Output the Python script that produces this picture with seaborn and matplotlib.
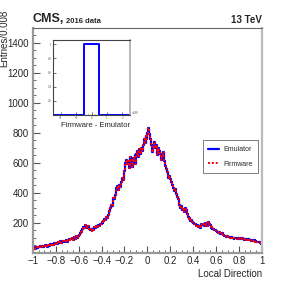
import numpy as np
import pandas as pd
import matplotlib
matplotlib.use('Agg')
import matplotlib.pyplot as plt
import seaborn as sns

# Local direction histogram, 250 bins of width 0.008 on [-1, 1]
bin_width = 0.008
counts = [
    32, 38, 28, 40, 35, 30, 42, 37, 45, 38, 48, 41, 44, 52, 46, 40, 50, 55, 47, 58, 52, 60, 54, 64, 58,
    66, 60, 72, 64, 70, 78, 66, 75, 82, 72, 80, 88, 76, 85, 92, 84, 95, 90, 100, 88, 104, 96, 110, 102, 115,
    122, 130, 145, 138, 160, 172, 165, 185, 176, 168, 180, 160, 150, 158, 145, 162, 155, 170, 165, 178, 172, 185, 180, 195, 190,
    205, 198, 215, 225, 218, 240, 235, 255, 280, 300, 320, 310, 345, 365, 360, 385, 430, 445, 420, 450, 440, 470, 500, 485, 530,
    545, 600, 620, 590, 610, 565, 640, 600, 575, 630, 610, 650, 590, 660, 680, 640, 690, 660, 700, 680, 720, 760, 730, 780, 760,
    800, 830, 790, 760, 720, 670, 700, 740, 700, 720, 680, 650, 700, 680, 660, 620, 650, 670, 610, 580, 560, 540, 525, 500, 510,
    490, 470, 450, 430, 410, 425, 390, 375, 360, 340, 320, 300, 310, 285, 290, 275, 300, 285, 260, 240, 225, 235, 210, 220, 205,
    200, 190, 196, 180, 185, 172, 178, 168, 180, 190, 185, 195, 180, 200, 188, 178, 205, 195, 185, 168, 175, 160, 158, 150, 155,
    145, 140, 135, 138, 128, 125, 130, 120, 118, 112, 115, 108, 110, 104, 106, 100, 104, 98, 102, 96, 100, 97, 103, 95, 99,
    96, 100, 92, 97, 90, 94, 88, 92, 95, 86, 90, 84, 88, 82, 86, 80, 84, 76, 80, 72, 76, 70, 74, 66, 62,
]
edges = np.linspace(-1, 1, len(counts) + 1)
centers = (edges[:-1] + edges[1:]) / 2
df = pd.DataFrame({'direction': centers, 'emulator': counts, 'firmware': counts})

# Firmware - Emulator difference: everything lands in the zero bin
diff_values = [0]
diff_counts = [sum(counts)]

sns.set_style('ticks')
plt.rcParams['font.family'] = ['Liberation Sans', 'DejaVu Sans']

fig = plt.figure(figsize=(2.91, 2.82), dpi=100)
ax = fig.add_axes([0.113, 0.103, 0.787, 0.798])

sns.histplot(data=df, x='direction', weights='emulator', binwidth=bin_width, binrange=(-1, 1),
             element='step', fill=False, color='#0000ff', linewidth=1.6, ax=ax, label='Emulator')
sns.histplot(data=df, x='direction', weights='firmware', binwidth=bin_width, binrange=(-1, 1),
             element='step', fill=False, color='#ff0000', linewidth=1.4, linestyle=(0, (1, 1)),
             ax=ax, label='Firmware')

ax.set_xlim(-1, 1)
ax.set_ylim(0, 1500)
ax.set_xticks(np.arange(-1, 1.01, 0.2))
ax.set_xticklabels(['\u22121', '\u22120.8', '\u22120.6', '\u22120.4', '\u22120.2', '0', '0.2', '0.4', '0.6', '0.8', '1'])
ax.set_xticks(np.arange(-1, 1.01, 0.05), minor=True)
ax.set_yticks(np.arange(200, 1401, 200))
ax.set_yticks(np.arange(0, 1501, 50), minor=True)
ax.tick_params(axis='both', which='major', direction='in', length=5, width=0.8, color='#555555',
               labelsize=7, pad=2)
ax.tick_params(axis='y', which='major', pad=2.8)
ax.tick_params(axis='both', which='minor', direction='in', length=2.5, width=0.6, color='#555555')
for side in ['left', 'bottom']:
    ax.spines[side].set_color('#999999')
    ax.spines[side].set_linewidth(1.6)
ax.spines['top'].set_color('#666666')
ax.spines['top'].set_linewidth(0.8)
ax.spines['right'].set_color('#bbbbbb')
ax.spines['right'].set_linewidth(1.6)

ax.set_xlabel('Local Direction', fontsize=7, loc='right', labelpad=2)
ax.set_ylabel('Entries/0.008', fontsize=7, loc='top')
ax.yaxis.set_label_coords(-0.104, 1.08)

ax.text(0.0, 1.015, 'CMS,', transform=ax.transAxes, fontsize=9, fontweight='bold', ha='left', va='bottom')
ax.text(0.143, 1.015, '2016 data', transform=ax.transAxes, fontsize=5.5, fontweight='bold', ha='left', va='bottom')
ax.text(1.0, 1.015, '13 TeV', transform=ax.transAxes, fontsize=7, fontweight='bold', ha='right', va='bottom')

leg = ax.legend(loc='upper left', bbox_to_anchor=(0.742, 0.50), fontsize=5, frameon=True,
                fancybox=False, edgecolor='#444444', handlelength=1.6, handletextpad=0.5,
                borderpad=0.8, labelspacing=1.1, borderaxespad=0)
leg.get_frame().set_linewidth(0.6)

# inset
ins = fig.add_axes([0.182, 0.592, 0.265, 0.266])
sns.histplot(x=diff_values, weights=diff_counts, binwidth=1.0, binrange=(-2.5, 2.5), element='step',
             fill=False, color='#0000ff', linewidth=1.4, ax=ins)
ins.set_xlim(-2.5, 2.5)
ins.set_ylim(0, diff_counts[0] * 1.06)
ins.set_xticks(np.arange(-2, 2.01, 1))
ins.set_xticks(np.arange(-2.5, 2.51, 0.25), minor=True)
ins.set_yticks(np.linspace(0, diff_counts[0], 6)[1:])
ins.set_yticklabels(['0.2', '0.4', '0.6', '0.8', '1'])
ins.tick_params(axis='both', which='major', direction='in', length=2, width=0.5, labelsize=2,
                pad=1, color='#333333', labelcolor='#555555')
ins.tick_params(axis='both', which='minor', direction='in', length=1, width=0.4, color='#333333')
ins.set_ylabel('')
ins.set_xlabel('Firmware - Emulator', fontsize=5.5, loc='right', labelpad=1)
for side in ['left', 'bottom', 'top']:
    ins.spines[side].set_color('#444444')
    ins.spines[side].set_linewidth(0.8)
ins.spines['right'].set_color('#aaaaaa')
ins.spines['right'].set_linewidth(1.2)
ins.text(1.02, 0.0, '\u00d710\u00b3', transform=ins.transAxes, fontsize=2.5, color='#555555', va='bottom')

fig.savefig('out.png', dpi=100)
